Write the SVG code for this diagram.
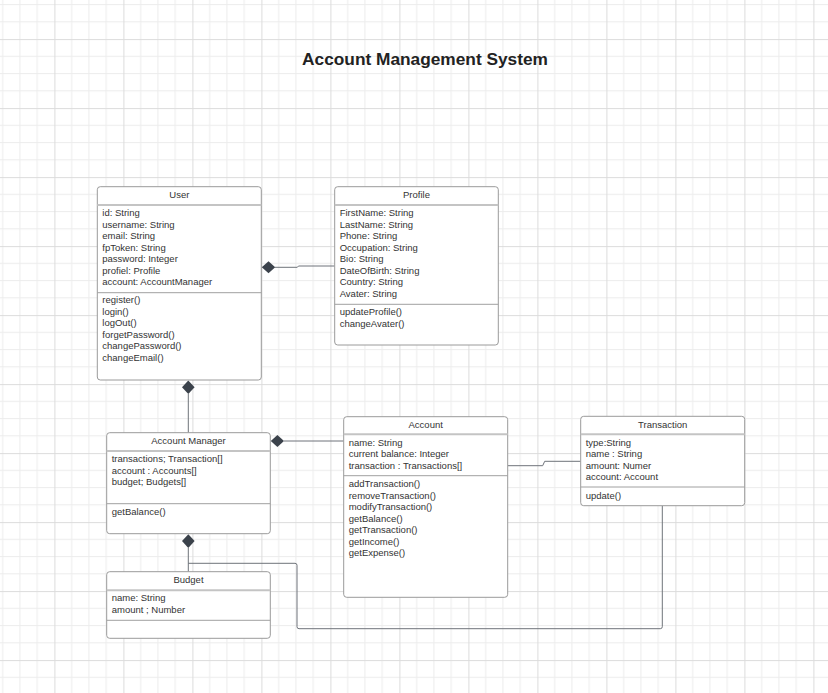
<svg xmlns="http://www.w3.org/2000/svg" width="828" height="693" viewBox="0 0 828 693">
<defs>
<pattern id="grid" patternUnits="userSpaceOnUse" x="54.4" y="39.1" width="69" height="69">
<path d="M17.25 0V69M34.5 0V69M51.75 0V69M0 17.25H69M0 34.5H69M0 51.75H69" stroke="#ececec" stroke-width="1" fill="none"/>
<path d="M0.5 0V69M0 0.5H69" stroke="#dcdcdc" stroke-width="1" fill="none"/>
</pattern>
</defs>
<style>
.box{fill:#fff;stroke:#9a9a9a;stroke-width:1}
.hd{stroke:#c4c4c4;stroke-width:2}
.dv{stroke:#a0a0a0;stroke-width:1}
.t{font-family:"Liberation Sans",Arial,sans-serif;font-size:9.5px;fill:#333}
.c{text-anchor:middle}
.cn{fill:none;stroke:#6f737a;stroke-width:1}
.dm{fill:#3b424b}
.title{font-family:"Liberation Sans",Arial,sans-serif;font-size:17.3px;font-weight:bold;fill:#222;text-anchor:middle}
</style>
<rect width="828" height="693" fill="#fff"/>
<rect width="828" height="693" fill="url(#grid)"/>
<text class="title" x="425" y="65">Account Management System</text>

<g id="connectors">
<path class="cn" d="M275 267.3H297.3L298.5 266H334.7"/>
<path class="cn" d="M188.3 394V432.7"/>
<path class="cn" d="M284 441H343.7"/>
<path class="cn" d="M188.3 548V571.7"/>
<path class="cn" d="M188.3 563.3H295a2 2 0 0 1 2 2V626.7a2 2 0 0 0 2 2H660.3a2 2 0 0 0 2-2V505.7"/>
<path class="cn" d="M507.7 465.7H542.7L544.7 461.3H580.7"/>
<polygon class="dm" points="261.8,267.3 268.5,261.3 275.2,267.3 268.5,273.3"/>
<polygon class="dm" points="188.3,380.5 194.6,387.2 188.3,393.9 182,387.2"/>
<polygon class="dm" points="270.8,441 277.4,435 284,441 277.4,447"/>
<polygon class="dm" points="188.3,534.2 194.6,541.1 188.3,548 182,541.1"/>
</g>

<g id="user">
<rect class="box" x="97.3" y="186.7" width="164" height="193.3" rx="3"/>
<line class="hd" x1="97.3" y1="205" x2="261.3" y2="205"/>
<line class="dv" x1="97.3" y1="292.7" x2="261.3" y2="292.7"/>
<text class="t c" x="179.3" y="198">User</text>
<text class="t" x="102.3" y="216">id: String</text>
<text class="t" x="102.3" y="227.5">username: String</text>
<text class="t" x="102.3" y="239">email: String</text>
<text class="t" x="102.3" y="250.5">fpToken: String</text>
<text class="t" x="102.3" y="262">password: Integer</text>
<text class="t" x="102.3" y="273.5">profiel: Profile</text>
<text class="t" x="102.3" y="285">account: AccountManager</text>
<text class="t" x="102.3" y="303.3">register()</text>
<text class="t" x="102.3" y="314.8">login()</text>
<text class="t" x="102.3" y="326.3">logOut()</text>
<text class="t" x="102.3" y="337.8">forgetPassword()</text>
<text class="t" x="102.3" y="349.3">changePassword()</text>
<text class="t" x="102.3" y="360.8">changeEmail()</text>
</g>

<g id="profile">
<rect class="box" x="334.7" y="186.7" width="163.6" height="158.3" rx="3"/>
<line class="hd" x1="334.7" y1="205" x2="498.3" y2="205"/>
<line class="dv" x1="334.7" y1="304.3" x2="498.3" y2="304.3"/>
<text class="t c" x="416.5" y="198">Profile</text>
<text class="t" x="339.7" y="216">FirstName: String</text>
<text class="t" x="339.7" y="227.5">LastName: String</text>
<text class="t" x="339.7" y="239">Phone: String</text>
<text class="t" x="339.7" y="250.5">Occupation: String</text>
<text class="t" x="339.7" y="262">Bio: String</text>
<text class="t" x="339.7" y="273.5">DateOfBirth: String</text>
<text class="t" x="339.7" y="285">Country: String</text>
<text class="t" x="339.7" y="296.5">Avater: String</text>
<text class="t" x="339.7" y="315">updateProfile()</text>
<text class="t" x="339.7" y="326.5">changeAvater()</text>
</g>

<g id="account-manager">
<rect class="box" x="106.7" y="432.7" width="163.6" height="101" rx="3"/>
<line class="hd" x1="106.7" y1="451" x2="270.3" y2="451"/>
<line class="dv" x1="106.7" y1="503.7" x2="270.3" y2="503.7"/>
<text class="t c" x="188.5" y="443.8">Account Manager</text>
<text class="t" x="111.7" y="462.3">transactions; Transaction[]</text>
<text class="t" x="111.7" y="473.8">account : Accounts[]</text>
<text class="t" x="111.7" y="485.3">budget; Budgets[]</text>
<text class="t" x="111.7" y="515">getBalance()</text>
</g>

<g id="account">
<rect class="box" x="343.7" y="416.7" width="164" height="180.6" rx="3"/>
<line class="hd" x1="343.7" y1="434.3" x2="507.7" y2="434.3"/>
<line class="dv" x1="343.7" y1="475.7" x2="507.7" y2="475.7"/>
<text class="t c" x="425.7" y="427.8">Account</text>
<text class="t" x="348.7" y="445.7">name: String</text>
<text class="t" x="348.7" y="457.2">current balance: Integer</text>
<text class="t" x="348.7" y="468.7">transaction : Transactions[]</text>
<text class="t" x="348.7" y="487">addTransaction()</text>
<text class="t" x="348.7" y="498.5">removeTransaction()</text>
<text class="t" x="348.7" y="510">modifyTransaction()</text>
<text class="t" x="348.7" y="521.5">getBalance()</text>
<text class="t" x="348.7" y="533">getTransaction()</text>
<text class="t" x="348.7" y="544.5">getIncome()</text>
<text class="t" x="348.7" y="556">getExpense()</text>
</g>

<g id="transaction">
<rect class="box" x="580.7" y="416.3" width="164" height="89.4" rx="3"/>
<line class="hd" x1="580.7" y1="434.3" x2="744.7" y2="434.3"/>
<line class="dv" x1="580.7" y1="487" x2="744.7" y2="487"/>
<text class="t c" x="662.7" y="427.8">Transaction</text>
<text class="t" x="585.7" y="445.7">type:String</text>
<text class="t" x="585.7" y="457.2">name : String</text>
<text class="t" x="585.7" y="468.7">amount: Numer</text>
<text class="t" x="585.7" y="480.2">account: Account</text>
<text class="t" x="585.7" y="499">update()</text>
</g>

<g id="budget">
<rect class="box" x="106.7" y="571.7" width="163.6" height="66.6" rx="3"/>
<line class="hd" x1="106.7" y1="590.3" x2="270.3" y2="590.3"/>
<line class="dv" x1="106.7" y1="620.3" x2="270.3" y2="620.3"/>
<text class="t c" x="188.5" y="582.8">Budget</text>
<text class="t" x="111.7" y="601">name: String</text>
<text class="t" x="111.7" y="612.5">amount ; Number</text>
</g>
</svg>
